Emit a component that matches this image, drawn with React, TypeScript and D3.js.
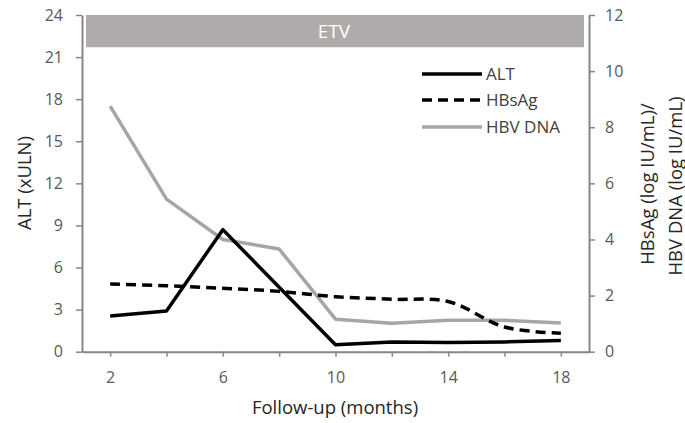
import React, { useEffect, useRef } from 'react';
import * as d3 from 'd3';

const WIDTH = 685;
const HEIGHT = 423;
const MARGIN = { top: 15, right: 96, bottom: 71.3, left: 82 };

const months = [2, 4, 6, 8, 10, 12, 14, 16, 18];
const altValues = [2.55, 2.9, 8.7, 4.6, 0.5, 0.7, 0.65, 0.7, 0.8];
const hbsagValues = [2.41, 2.35, 2.26, 2.15, 1.96, 1.87, 1.79, 0.88, 0.66];
const hbvDnaValues = [8.75, 5.44, 4.0, 3.66, 1.16, 1.01, 1.12, 1.12, 1.02];
const leftTicks = [0, 3, 6, 9, 12, 15, 18, 21, 24];
const rightTicks = [0, 2, 4, 6, 8, 10, 12];
const labelledMonths = [2, 6, 10, 14, 18];
const bandLabel = 'ETV';
const bandFrom = 21.7; // left-axis value where the treatment band starts

const FONT = "'Open Sans', sans-serif";
const TICK_COLOR = '#595959';
const AXIS_COLOR = '#868686';
const TITLE_COLOR = '#262626';

const App = () => {
  const xAxisRef = useRef(null);
  const yLeftRef = useRef(null);
  const yRightRef = useRef(null);

  const chartLeft = MARGIN.left;
  const chartRight = WIDTH - MARGIN.right;
  const chartTop = MARGIN.top;
  const chartBottom = HEIGHT - MARGIN.bottom;

  const xScale = d3.scaleLinear().domain([1, 19]).range([chartLeft, chartRight]);
  const yLeft = d3.scaleLinear().domain([0, 24]).range([chartBottom, chartTop]);
  const yRight = d3.scaleLinear().domain([0, 12]).range([chartBottom, chartTop]);

  const altLine = d3.line<number>()
    .x((d, i) => xScale(months[i]))
    .y(d => yLeft(d));
  const hbsagLine = d3.line<number>()
    .x((d, i) => xScale(months[i]))
    .y(d => yRight(d))
    .curve(d3.curveCatmullRom.alpha(0.5));
  const dnaLine = d3.line<number>()
    .x((d, i) => xScale(months[i]))
    .y(d => yRight(d));

  useEffect(() => {
    const styleAxis = (g) => {
      g.select('.domain').attr('stroke', AXIS_COLOR).attr('stroke-width', 2);
      g.selectAll('.tick line').attr('stroke', AXIS_COLOR).attr('stroke-width', 1.5);
      g.selectAll('.tick text')
        .attr('fill', TICK_COLOR)
        .style('font-family', FONT)
        .style('font-size', '16px');
    };

    d3.select(xAxisRef.current)
      .call(
        d3.axisBottom(xScale)
          .tickValues(months)
          .tickSize(5)
          .tickSizeOuter(0)
          .tickPadding(15)
          .tickFormat(d => (labelledMonths.includes(d as number) ? String(d) : ''))
      )
      .call(styleAxis);

    d3.select(yLeftRef.current)
      .call(d3.axisLeft(yLeft).tickValues(leftTicks).tickSize(6).tickSizeOuter(0).tickPadding(13))
      .call(styleAxis);

    d3.select(yRightRef.current)
      .call(d3.axisRight(yRight).tickValues(rightTicks).tickSize(6).tickSizeOuter(0).tickPadding(10))
      .call(styleAxis);
  }, []);

  const legendItems = [
    { label: 'ALT', color: '#000', dash: null, y: 74 },
    { label: 'HBsAg', color: '#000', dash: '10,6', y: 100 },
    { label: 'HBV DNA', color: '#a6a6a6', dash: null, y: 127 },
  ];

  return (
    <svg width={WIDTH} height={HEIGHT} style={{ position: 'absolute', left: 0, top: 0, background: '#fff' }}>
      <rect
        x={chartLeft + 4}
        y={yLeft(24)}
        width={chartRight - chartLeft - 9}
        height={yLeft(bandFrom) - yLeft(24)}
        fill="#afabab"
      />
      <text
        x={334}
        y={(yLeft(24) + yLeft(bandFrom)) / 2 + 7}
        textAnchor="middle"
        fill="#fff"
        fontFamily={FONT}
        fontSize={19}
      >
        {bandLabel}
      </text>

      <path d={dnaLine(hbvDnaValues)} fill="none" stroke="#a6a6a6" strokeWidth={3.5} strokeLinejoin="round" />
      <path d={hbsagLine(hbsagValues)} fill="none" stroke="#000" strokeWidth={3.5} strokeDasharray="10,6" />
      <path d={altLine(altValues)} fill="none" stroke="#000" strokeWidth={3.5} strokeLinejoin="round" />

      <g ref={xAxisRef} transform={`translate(0, ${chartBottom})`} />
      <g ref={yLeftRef} transform={`translate(${chartLeft}, 0)`} />
      <g ref={yRightRef} transform={`translate(${chartRight}, 0)`} />

      {legendItems.map(item => (
        <g key={item.label}>
          <line
            x1={422}
            x2={482}
            y1={item.y}
            y2={item.y}
            stroke={item.color}
            strokeWidth={3.5}
            strokeDasharray={item.dash ?? undefined}
          />
          <text x={486} y={item.y + 6} fill="#404040" fontFamily={FONT} fontSize={17}>
            {item.label}
          </text>
        </g>
      ))}

      <text
        transform="translate(30.5, 183) rotate(-90)"
        textAnchor="middle"
        fill={TITLE_COLOR}
        fontFamily={FONT}
        fontSize={18.5}
      >
        ALT (xULN)
      </text>
      <text
        transform="translate(653.5, 184) rotate(-90)"
        textAnchor="middle"
        fill={TITLE_COLOR}
        fontFamily={FONT}
        fontSize={18.5}
      >
        HBsAg (log IU/mL)/
      </text>
      <text
        transform="translate(681.5, 186) rotate(-90)"
        textAnchor="middle"
        fill={TITLE_COLOR}
        fontFamily={FONT}
        fontSize={18.5}
      >
        HBV DNA (log IU/mL)
      </text>
      <text x={335} y={414} textAnchor="middle" fill={TITLE_COLOR} fontFamily={FONT} fontSize={18.5}>
        Follow-up (months)
      </text>
    </svg>
  );
};

export default App;
